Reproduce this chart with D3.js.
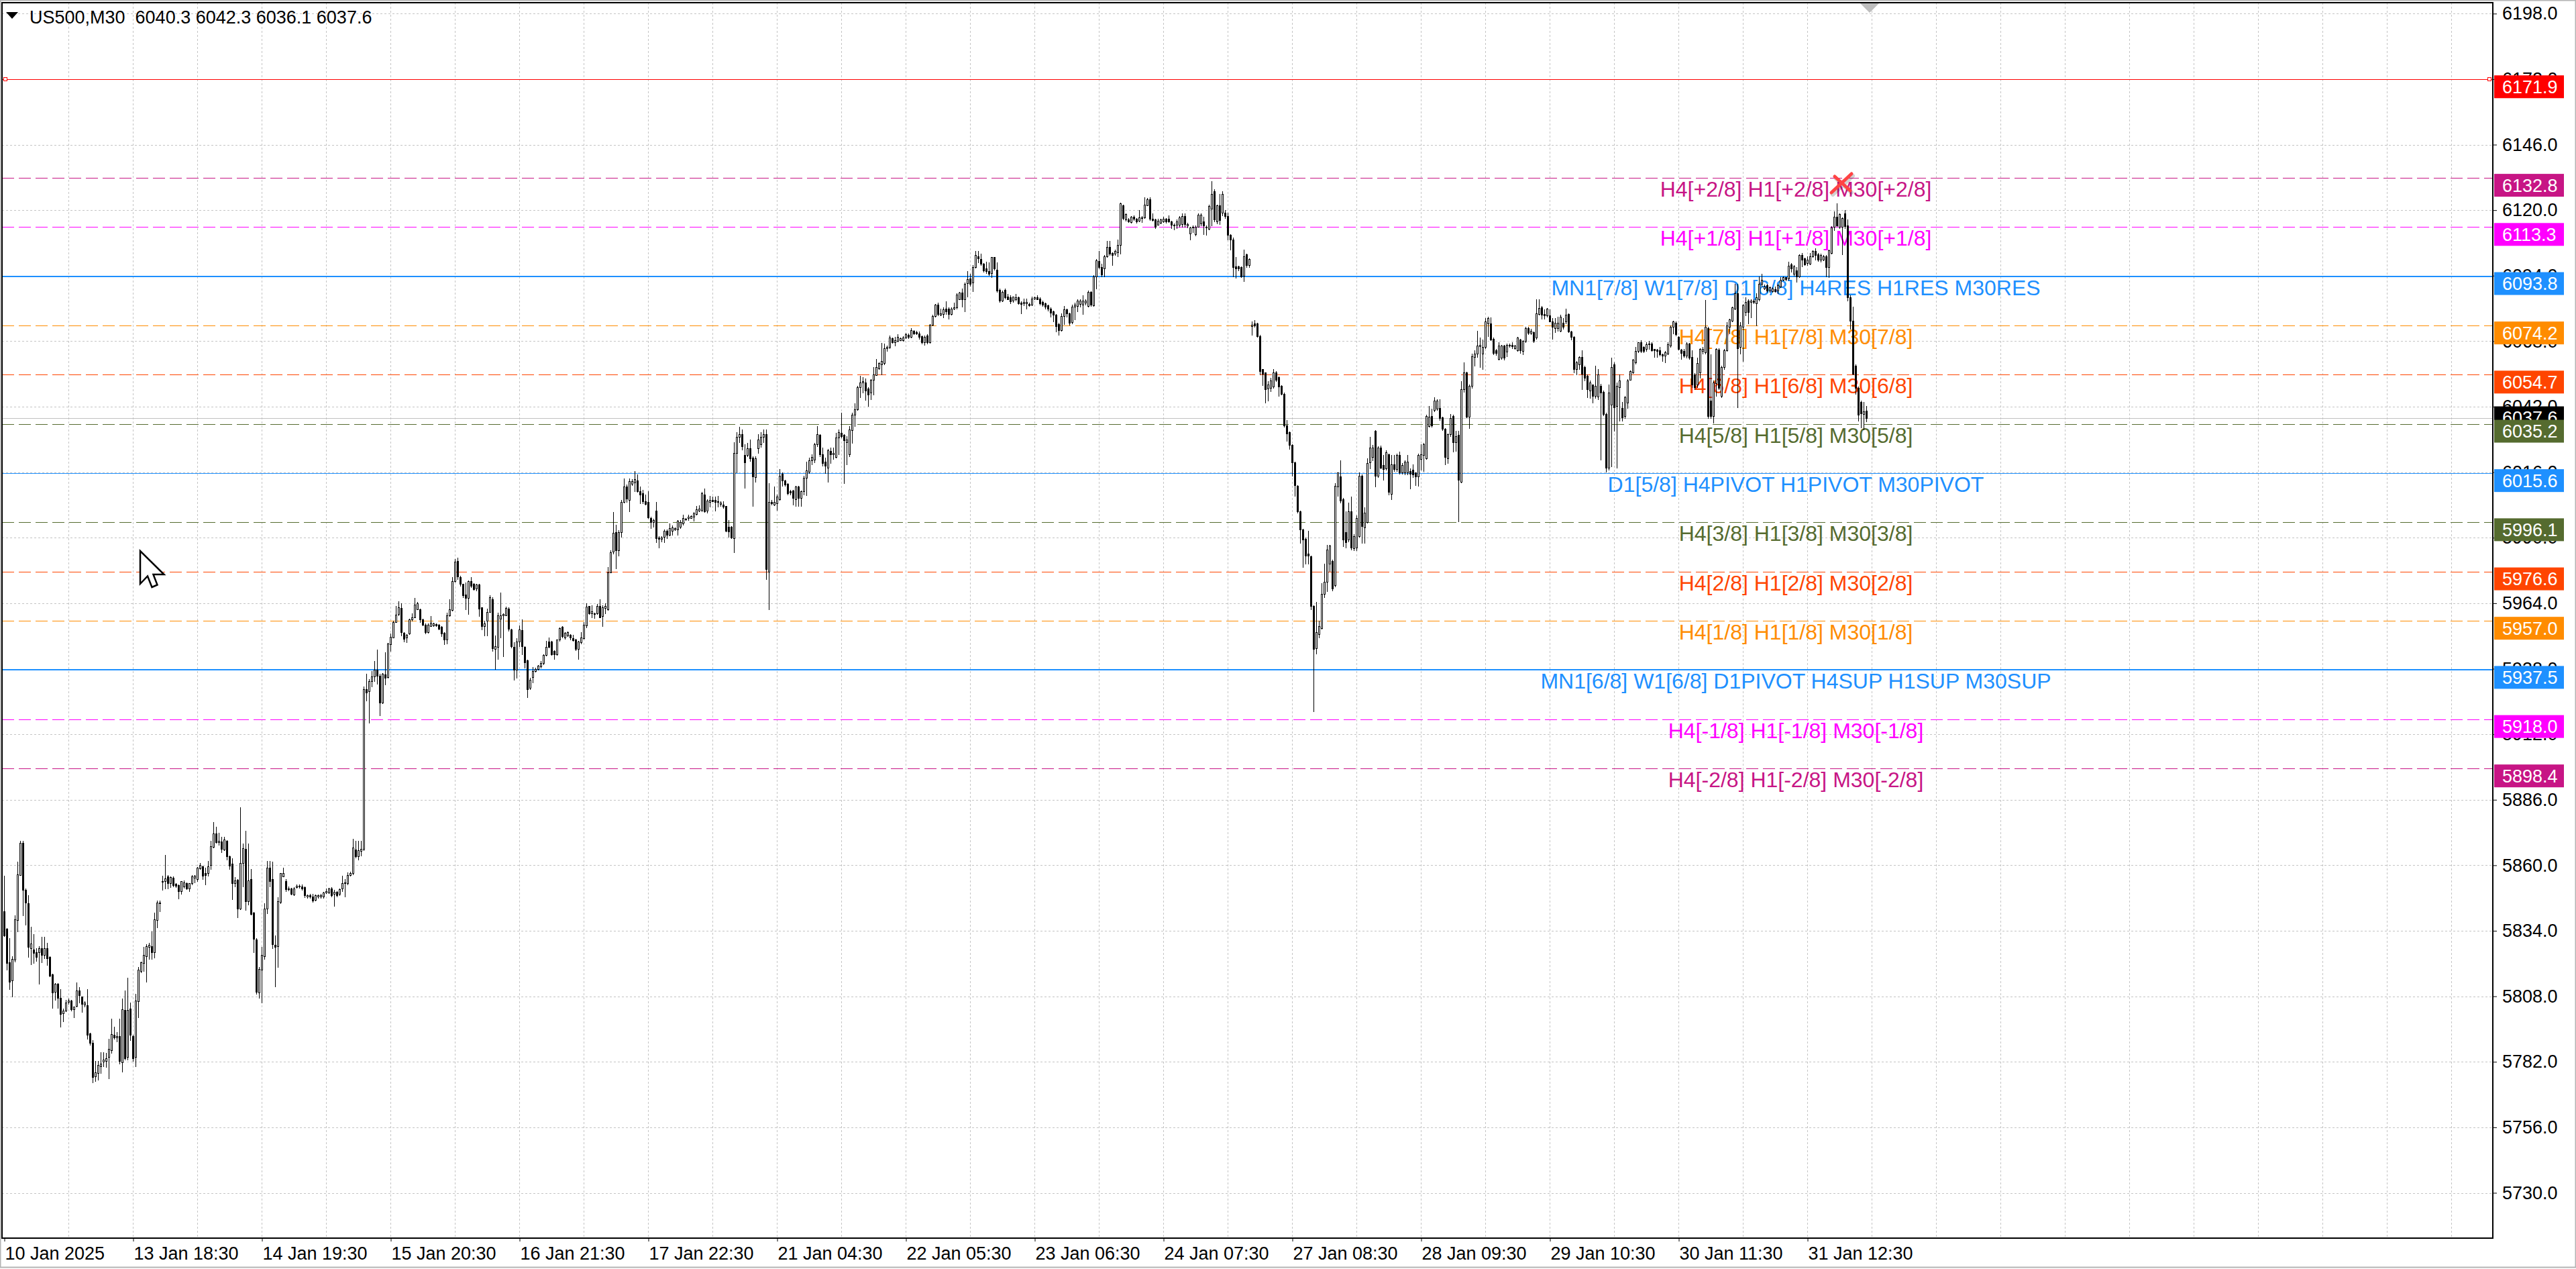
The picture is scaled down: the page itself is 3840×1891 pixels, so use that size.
<!DOCTYPE html>
<html>
<head>
<meta charset="utf-8">
<script src="https://d3js.org/d3.v7.min.js"></script>
<style>
html, body { margin: 0; padding: 0; background: #fff; }
svg { display: block; }
text { font-family: "Liberation Sans", Arial, sans-serif; }
</style>
</head>
<body>
<div class="chart"></div>
<script>
// US500, M30 candles [open, high, low, close]
const sessionA = [
[5841.7,5855.9,5832,5832.2],[5834.9,5835,5818.6,5821.2],[5821.4,5831.2,5810.7,5813.8],[5814.4,5823.9,5808,5822.8],[5822.5,5840.2,5821.7,5838.6],
[5838.3,5861.4,5833.8,5856.5],[5856.2,5869.6,5856,5868.8],[5868.8,5869.6,5840.2,5850.2],[5850.2,5850.7,5836.5,5845.2],[5844.9,5848,5823.6,5827.5],
[5827,5835.7,5820.7,5829],[5826.6,5832.8,5821.2,5825.2],[5825.4,5827,5822,5823.5],[5825.6,5828,5813,5827],[5827.2,5831.7,5821.4,5824.4],
[5824.4,5831.7,5823,5827],[5827,5829.1,5820.4,5823.1],[5823.5,5823.8,5816,5816.2],[5816.7,5817,5803.5,5809.4],[5809.8,5813.3,5806.5,5813],
[5813,5813.3,5803.3,5807.5],[5807.5,5810.7,5795.9,5801],[5801.2,5803,5798,5802.3],[5802.3,5806.5,5802,5805.6],[5805.7,5807,5805,5806.3],
[5806.2,5806.7,5802.3,5802.8],[5802.8,5804,5799.6,5803.9],[5804.2,5813.6,5804,5810.2],[5810.2,5811.7,5805.4,5808.4],[5808,5808,5801.7,5804.9],
[5804.6,5806,5804,5805.4],[5804.4,5810.9,5791.2,5792.8],[5793.3,5793.5,5788.6,5789.6],[5789.6,5790.7,5773.8,5775.9],[5776.1,5782.3,5774.3,5777.8],
[5777.5,5782.3,5774.9,5780.7],[5780.2,5785.9,5777.5,5781.4],[5782,5785.9,5780.2,5782.8],[5782.3,5785.4,5780,5783.3],[5783.8,5791.2,5775.4,5787],
[5786.7,5799.1,5785.4,5793],[5792.8,5795.9,5791,5791.7],[5791.7,5793.8,5790.1,5792.3],[5792.3,5799.1,5781.2,5782.3],[5781.7,5807,5778,5802.8],
[5802.5,5810.2,5782.9,5783.3],[5783.8,5815.4,5783,5802.5],[5803.1,5805.4,5790.7,5792.6],[5792.3,5792.8,5782.3,5783.3],[5783.8,5809.1,5780.2,5806.3],
[5806,5819.6,5799.6,5818.6],[5818,5821.8,5817.5,5821.4],[5821.2,5827.5,5818,5824.4],[5823.8,5828.6,5813.8,5828],[5827.5,5829.1,5822.8,5828.4],
[5828,5833.8,5822.8,5825.4],[5825.4,5841.2,5823.3,5838.6],[5838.3,5845.9,5835.4,5845.2],[5845.2,5845.9,5841.7,5844.8],[5853.4,5855.9,5850.2,5853.8],
[5853.8,5864.1,5850.7,5854.8],[5855.7,5856.1,5850.7,5852.8],[5852.8,5855.5,5851.2,5855.4],[5855.1,5855.5,5851.5,5852.2],[5852.6,5853,5851.2,5851.9],
[5852.2,5852.4,5846.7,5849.6],[5849.8,5853.8,5848.6,5853.6],[5851.7,5854,5851,5853.3],[5853,5853.3,5850.5,5850.9],[5850.9,5853,5849.8,5852.8],
[5852.8,5856,5852.5,5855.7],[5855.1,5856.1,5853.3,5855.9],[5854.4,5859.3,5853.8,5859.1],[5858.9,5860.9,5858.5,5860.2],[5859.6,5859.8,5854.4,5855.9],
[5857,5859.1,5852.3,5856.1],[5856.8,5861.7,5855.9,5859.6],[5860.1,5869.6,5858.6,5867.5],[5867.3,5877.2,5867,5872.6],[5872.6,5875.4,5868.8,5869.1],
[5869.1,5872.8,5868,5869.6],[5869.4,5871.2,5865.2,5866.4],[5866.2,5871.2,5865.9,5870.2],[5869.8,5869.9,5862.2,5863.5],[5863.5,5863.8,5858.6,5859.9],
[5860.7,5862.8,5846.5,5853],[5852.8,5855.4,5851.7,5854],[5854.3,5854.5,5839.3,5842.8],[5842.8,5883.1,5842.5,5861],[5861,5868.6,5851.7,5866.7],
[5866.5,5873.8,5842.2,5845.6],[5845.6,5868.6,5844.3,5854],[5854.4,5858.6,5840.5,5840.7],[5841.2,5841.5,5825.4,5830.9],[5830.5,5831.2,5809.1,5809.8],
[5809.6,5819.6,5807.5,5818.9],[5818.6,5827.5,5805.4,5824.4],[5823.8,5844.9,5822.8,5842.8],[5842.8,5861.7,5841,5859.1],[5859.1,5861.7,5851.7,5853.8],
[5854.4,5861.4,5827,5828.8],[5828.4,5832.2,5811.9,5827.7],[5828,5847.3,5819.6,5845.6],[5845.4,5857,5844.9,5856.8],[5855.7,5859.1,5855.5,5857],
[5853.6,5854.4,5849.8,5850.5],[5850.9,5851.5,5850,5850.5],[5850.7,5851,5848.3,5848.6],[5848.4,5851.2,5848,5850.9],[5851.2,5852.5,5851,5851.9],
[5851.9,5852.3,5851,5851.5],[5851.5,5852.3,5850.2,5850.9],[5851.2,5851.5,5847.3,5848],[5847.7,5848.4,5847,5848],[5848,5848.6,5847,5847.5],
[5847.5,5848.6,5845.4,5845.9],[5846.2,5848.3,5846,5848],[5847.5,5848.4,5847,5848],[5847.5,5848.6,5847,5848],[5847.5,5849.5,5847,5849.1],
[5849.1,5850.7,5848.8,5849.8],[5849.1,5851,5848.8,5850.7],[5850.9,5851.2,5847.5,5848],[5848.6,5850.2,5843.8,5849.4],[5849.4,5849.6,5847.5,5848],
[5848.6,5850.7,5848,5850.5],[5850.7,5855.9,5849.6,5852.8],[5852.8,5854.4,5847.7,5853.3],[5853,5857.2,5852.5,5856.1],[5856.1,5857.5,5855.8,5856.8],
[5856.8,5870.5,5856.5,5867],[5866.2,5869.6,5863.1,5863.5],[5863.5,5869.6,5862.2,5866],[5865.6,5869.6,5863.8,5866.5],[5866.5,5931,5866,5930],
[5930,5936,5925.4,5928.6],[5929.1,5934,5916.5,5933],[5933,5937,5931,5935],[5935,5941,5933,5937.5],[5937.5,5945.5,5932,5935.3],
[5935.3,5936,5919.5,5924.6],[5924.6,5936.4,5924.2,5936],[5935.7,5944.6,5931.7,5934.4],[5934.8,5948.2,5934.4,5947.9],[5947.7,5952,5945,5950.6],
[5950.4,5957,5950.3,5956.6],[5956.6,5962.8,5956.5,5959.4],[5959.7,5964.8,5959.2,5962.4],[5962.1,5964.1,5951.3,5952.6],[5952.3,5952.4,5948.8,5949.9],
[5950.4,5951.7,5948.6,5951.4],[5952.1,5957.9,5951.7,5957.5],[5957.5,5960.1,5957,5958.5],[5958.5,5966.1,5958.3,5963.5],[5961.7,5964.6,5961.5,5963.9],
[5961.7,5961.9,5956.6,5957.5],[5957.5,5957.9,5955.3,5955.5],[5955.5,5955.9,5952.1,5952.6],[5952.6,5955.9,5952.3,5955.5],[5955,5958.8,5954.8,5956.2],
[5955.3,5956.3,5955,5955.9],[5955.7,5956,5955,5955.3],[5955.5,5955.7,5953.7,5953.9],[5954.6,5954.8,5950.8,5952.1],[5952.3,5952.6,5947.7,5949.7],
[5949.7,5960.3,5948.1,5959.1],[5959.1,5965.5,5959,5961.5],[5961.2,5974.3,5961,5972.8],[5972.8,5981.6,5972.6,5980.4],[5980.7,5982.1,5973.6,5974.5],
[5974.3,5974.8,5970.8,5971.7],[5971.7,5971.8,5966.3,5967.2],[5967.4,5972.1,5961.5,5966.2],[5966.2,5973,5959.7,5972.8],[5972.8,5974.3,5970.4,5971],
[5971.7,5971.9,5969.2,5969.5],[5969.7,5971.7,5969,5971.4],[5971.4,5971.7,5958.8,5961.9],[5962.4,5962.4,5953.7,5954.8],[5955,5957,5951.3,5955.9],
[5957,5961.9,5951.3,5960.6],[5960.6,5967.2,5960.4,5966.3],[5965.7,5966.5,5945,5946.1],[5945.9,5951.3,5938,5946.8],[5946.6,5960.3,5941.9,5959.1],
[5957.9,5968.3,5950.4,5959.1],[5959.1,5960.1,5942.8,5959.7],[5959.3,5962.6,5959.2,5962.1],[5961.9,5962.4,5953,5953.9],[5953.5,5953.9,5946.4,5946.8],
[5946.6,5948.6,5933.5,5937.5],[5937.5,5950.2,5934.4,5948.8],[5948.8,5955.3,5946.8,5953.5],[5953.2,5957.7,5943.7,5946.8],[5946.6,5946.8,5938.4,5940.6],
[5941.3,5941.5,5926.6,5929.9],[5930.4,5934.4,5929.9,5933.5],[5934.8,5938.8,5932.6,5937.2],[5937.2,5938.5,5936.8,5937.8],[5937.9,5939.6,5937.6,5939.3],
[5939,5941,5938.4,5940.2],[5940.2,5943.7,5939.7,5943.5],[5943.5,5949,5943.3,5946.6],[5948.8,5950.4,5946.4,5946.6],[5948.8,5949,5943.5,5943.7],
[5945,5945.2,5941.9,5943.7],[5943.7,5949.7,5943.5,5949.5],[5949.5,5954.4,5949,5954.1],[5954.6,5954.8,5950.4,5950.8],[5950.4,5952.6,5949.9,5952.3],
[5951.1,5952.7,5950.9,5952.6],[5951.4,5951.6,5949.5,5950.4],[5950.2,5951.4,5949,5949.3],[5949.7,5949.9,5945.2,5945.9],[5945.9,5949,5941.9,5948.8],
[5948.6,5952.6,5948.1,5950.4],[5950.2,5956.6,5949.9,5955.5],[5955.3,5963.9,5954.4,5962.6],[5962.8,5963,5959.7,5960.1],[5960.1,5963.3,5958.4,5960.8],
[5960.1,5960.3,5958.2,5959.7],[5960.1,5963.7,5959.7,5963],[5963,5965.6,5958.4,5958.5],[5958.8,5963.3,5955,5962.4],[5962.1,5963.9,5960.1,5962.8],
[5961.5,5978.4,5961.3,5976.3],[5976.3,5985,5976.1,5984.1],[5984.5,6000.1,5983.7,5991.9],[5992.1,5995.2,5977.9,5985],[5985,5993,5982.8,5992.3],
[5992.3,6005,5990.3,6004.1],[6004.1,6013.6,6004,6010.3],[6010.3,6011.2,6004.1,6005.4],[6005,6013.4,6000.5,6012.5],[6011.5,6013.2,6010.8,6012.4],
[6011.8,6016.5,6008.5,6013.2],[6012.7,6015.2,6008.1,6008.5],[6008.5,6010.3,6003.6,6007],[6007.7,6009.1,6003.6,6004.4],[6004.4,6007.2,6003.2,6003.5],
[6004.1,6008.5,5997.9,5998.1],[5997.9,5998.4,5993.9,5996.1],[5996.1,5997.5,5994.3,5997],[6000.8,6004.1,5988.1,5989.9],[5990.1,5990.5,5986.1,5989.6],
[5989.6,5990.5,5988.6,5990.1],[5990.3,5993.4,5988.1,5992.8],[5992.8,5993.2,5989.9,5991.2],[5991.2,5995.6,5990.8,5993.7],[5992.8,5994.8,5991.2,5994],
[5993.2,5994,5993,5993.7],[5993.4,5996.9,5991.2,5996.7],[5994.3,5997,5993.9,5996.1],[5995.6,5999.2,5995.2,5997.9],[5997.2,5997.9,5997,5997.6],
[5997.9,5999,5997,5998.3],[5997.9,5998.8,5997.7,5998.5],[5998.3,6000.3,5996.7,5999.7],[5999.4,6002.7,5999.2,6001.2],[6000.8,6002.9,6000.5,6001.4],
[6001,6008.1,6000.5,6007.6],[6007.2,6009.4,6000.3,6000.5],[6000.8,6005.2,5999.9,6004.7],[6004.1,6006.7,6002.3,6005],[6005,6006.3,6004.4,6004.5],
[6005,6006.3,6000.8,6004.1],[6004.1,6006.5,6002.3,6004.5],[6003.5,6004.4,6002.7,6003.8],[6003.2,6004.4,6001.9,6002.3],[6002.6,6002.7,5992.6,5992.8],
[5994.3,5997,5990.3,5992.6],[5994.3,5994.5,5989.9,5990.1]
];
const sessionB = [
[5989.9,6028,5984.3,6023.6],[6023.6,6032,6016,6030],[6030,6034,6028,6031],[6031,6033,6025,6026.3],[6022.7,6027,6009.9,6019.8],
[6022.7,6027.6,6022.3,6025.6],[6025.6,6029,6020.5,6021.4],[6021.9,6022.2,6002.7,6014.3],[6014.1,6022.3,6012.1,6021.6],[6025.4,6031,6023.6,6029],
[6027.2,6032,6026,6030],[6030,6033,6028,6031],[6031,6033,5973.5,5977.5],[5976.6,6011.6,5961.5,6004.1],[6004.1,6005,6003,6003.6],
[6003.2,6010.3,6002.9,6004.1],[6003.6,6007.2,6001,6006.3],[6005.3,6017.3,6005,6014.5],[6015.3,6016,6010.5,6012.8],[6012.8,6013,6010.5,6011.1],
[6011.4,6011.6,6007.1,6007.6],[6008.5,6009,6007,6008],[6008.8,6009,6003.1,6005.7],[6005.3,6010.5,6002.5,6010.3],[6010.3,6010.7,6002.7,6005.7],
[6005.9,6008.6,6002.5,6008.4],[6008.4,6014.5,6007.1,6013.7],[6013.7,6020.1,6006.8,6016.7],[6016.2,6021.9,6015.6,6020.7],[6020.7,6023,6019,6022],
[6021,6027.5,6020,6027],[6027,6034.4,6026.4,6031],[6030.7,6031,6022.4,6023],[6023,6025.8,6018.5,6019.6],[6020.1,6021.9,6015.6,6018.5],
[6017.9,6025.3,6012.2,6024.7],[6024.4,6025.8,6019.6,6023.2],[6023,6025.8,6021.3,6023.6],[6022.1,6031.5,6021.9,6029.8],[6029.8,6033,6023,6031.9],
[6031.5,6039.5,6029.8,6030.4],[6030.7,6031,6011.6,6028.7],[6027.8,6030.4,6019,6028.9],[6023,6034.4,6022.4,6033],[6032.7,6039.5,6027.6,6038.7],
[6038.7,6043.3,6034.4,6040.9],[6040.9,6050.3,6040.6,6049.8],[6049.8,6054.3,6045.8,6051.7],[6051.5,6053.7,6047.5,6052],[6051.7,6053.2,6044.6,6048.3],
[6049.2,6049.8,6042.4,6046.9],[6047.5,6052.8,6044.9,6052.6],[6052.6,6057.7,6046.9,6054.9],[6054.6,6060.8,6054.5,6057.7],[6057.2,6059.6,6057,6059.4],
[6058.8,6067.4,6054.9,6060],[6059.2,6067.1,6058.9,6065.1],[6065.1,6066.2,6064,6065.7],[6065.7,6070.2,6065.3,6069.4],[6069.1,6069.4,6067.4,6067.6],
[6067.6,6069.7,6066.2,6068.5],[6068,6070.8,6067.8,6069.7],[6068.5,6069.5,6068.3,6069.1],[6068.5,6069.9,6068,6069.4],[6069.4,6071.4,6069.1,6070.8],
[6070.6,6071,6069.1,6069.7],[6069.7,6073.1,6069.4,6072.5],[6072.1,6072.5,6070.8,6071],[6071.7,6072,6070.8,6071],[6071,6071.9,6068.8,6069.7],
[6069.9,6070.2,6067.1,6067.6],[6067.6,6070.2,6066.5,6069.7],[6070.2,6070.8,6067.1,6067.6],[6067.6,6074.8,6067.4,6074.4],[6074.4,6078.5,6074.2,6077.9],
[6077.9,6082.8,6077.6,6082.4],[6082.4,6083.3,6078.2,6078.8],[6078.5,6081,6078.2,6079],[6078.8,6081.3,6077.4,6080.5],[6081,6083.9,6078.8,6079.9],
[6080.8,6081.3,6077,6078.8],[6078.8,6081.3,6078.5,6081],[6080.8,6083.3,6080.5,6081.3],[6081.3,6087,6081,6086.5],[6084.7,6087.6,6084.5,6087.3],
[6087.3,6089,6081.6,6084.7],[6084.7,6091.3,6079.7,6090.7],[6091.1,6095.8,6085.6,6092.7],[6093,6094.7,6089.9,6090.7],[6091.3,6098.3,6087.9,6097.5],
[6097.5,6103.8,6097.2,6102.1],[6101.7,6103.8,6099.3,6101],[6100.6,6102.7,6098.1,6098.7],[6098.7,6099,6095.6,6096.1],[6096.8,6099.5,6094.9,6095.8],
[6095.8,6099.3,6094.1,6094.7],[6094.9,6101.5,6093.3,6101.3],[6101.3,6101.5,6096.4,6096.8],[6096.4,6099.3,6087.6,6088.1],[6088.4,6089,6083.6,6084.2],
[6084.2,6088.1,6083.9,6087.6],[6088.4,6088.8,6085,6085.4],[6085.6,6086.7,6084.5,6084.7],[6085.4,6086.2,6083.1,6083.9],[6084.2,6085.8,6083.6,6085.6],
[6084.7,6086.7,6084.2,6085.4],[6085.4,6085.8,6082.8,6083.1],[6083.3,6083.9,6079,6082.8],[6083.1,6085,6082.2,6083.6],[6083.1,6085,6081,6083.6],
[6082.8,6083.3,6082,6082.2],[6082.4,6085.6,6082.2,6085],[6085,6085.8,6084.7,6085.4],[6085.4,6086.2,6084.5,6084.7],[6085,6085.4,6082.4,6083.1],
[6083.6,6084.2,6082,6082.4],[6083.1,6083.3,6081,6081.6],[6082.2,6082.4,6080.1,6080.8],[6081,6081.3,6077.6,6079.3],[6079.7,6080.1,6075.9,6078.5],
[6078.5,6078.8,6071.9,6074],[6074.8,6075.4,6070.6,6072.5],[6072.5,6079,6072.2,6077.9],[6077.9,6082,6074.8,6080.5],[6080.5,6081,6077.6,6079],
[6079,6079.3,6074.4,6075.4],[6075.6,6082.4,6075.1,6081.6],[6081.6,6083.3,6076.7,6082.4],[6082,6084.5,6079.9,6084.2],[6082.8,6084.7,6081.6,6084.2],
[6082.4,6086.2,6078.8,6084.2],[6083.3,6084.7,6082.4,6084.2],[6082,6088.1,6081.6,6087.6],[6087.6,6087.9,6082,6082.4],[6082.2,6094.1,6082,6093.8],
[6093.8,6100.6,6089,6100.2],[6099.8,6103.8,6097,6097.5],[6097.5,6098.7,6093.8,6094.5],[6097,6102.1,6093.8,6101.8],[6101.8,6107.8,6101.5,6105.5],
[6105.5,6107.8,6102.1,6102.7],[6102.9,6103.2,6098.3,6102.1],[6102.7,6104.4,6102.1,6103.8],[6103.2,6108.4,6101.8,6106.3],[6106.1,6122.9,6102.7,6122.6],
[6122,6122.3,6116.3,6116.9],[6116.3,6118.8,6115.8,6118.4],[6116.3,6116.9,6115.2,6115.6],[6115.2,6117.7,6115,6117.5],[6117.5,6118,6116.1,6116.5],
[6116.5,6116.9,6115,6115.4],[6115.7,6120,6115.4,6117.2],[6116.9,6117.7,6115.2,6117.2],[6117.2,6125.1,6116.9,6122.3],[6122,6124.9,6121.8,6124.3],
[6124.3,6125.1,6116.1,6116.6],[6116.6,6118.6,6115.8,6116.1],[6116.3,6116.6,6112.9,6113.5],[6114.3,6116.6,6114.1,6115.8],[6115,6116.6,6114.6,6116.3],
[6115.4,6117.5,6115.2,6116.6],[6116.6,6116.9,6115,6115.4],[6116.6,6118,6115.2,6115.4],[6115.4,6115.8,6112.9,6114.3],[6114.3,6114.6,6112.3,6113.8],
[6114.1,6116.3,6112.9,6115.4],[6114.1,6117.7,6113.5,6117.2],[6114.4,6118.8,6113.5,6117.7],[6117.7,6118.6,6113.5,6114.4],[6114,6115,6113,6114.5],
[6110.8,6113.5,6108.4,6113],[6113.5,6114,6111.2,6113],[6110.5,6113.8,6109.8,6113.5],[6113.5,6118.6,6113.5,6118.2],[6114.7,6118.6,6114,6118.2],
[6115.4,6117.4,6110.5,6114],[6113,6114,6110.2,6113.5],[6112.6,6122.3,6112.3,6121.6],[6120.5,6131.4,6114,6126.5],[6127.5,6128.3,6115.4,6116.3],
[6115.4,6122.3,6114.7,6121.9],[6121.9,6126.5,6114.5,6116],[6119,6127.5,6118,6126.5],[6119.1,6120,6116.8,6117.7],[6117.7,6119.1,6108.4,6110.2],
[6110.2,6110.5,6104.2,6108.4],[6108.4,6109.1,6093.8,6097.3],[6097.7,6101.4,6093.1,6096.8],[6097.7,6098,6096,6096.8],[6097.3,6097.7,6093.5,6093.8],
[6094,6104.2,6091.7,6101.8],[6102.4,6102.8,6097.3,6098.2],[6098.2,6101,6097.3,6100.7]
];
const sessionC = [
[6074,6075.9,6070.4,6074.5],[6075,6076.4,6073.6,6074.3],[6075,6075.4,6069.8,6070.1],[6070.1,6070.4,6054.8,6056.2],[6056.9,6057,6050.6,6055],
[6055.5,6055.5,6043.6,6048.9],[6049.2,6052,6044.3,6050.9],[6049.5,6053.4,6048.1,6052.3],[6049.9,6056.9,6049.5,6055.5],[6055.5,6056.2,6052,6052.7],
[6053.7,6054.1,6046.4,6049.9],[6050.3,6050.6,6046.7,6047.1],[6047.1,6047.5,6033.9,6034.6],[6034.6,6036.7,6028.3,6031.4],[6031.8,6032.2,6025.2,6026.9],
[6026.9,6027.2,6014.7,6019.9],[6019.9,6020.2,6006.7,6010.9],[6010.5,6010.9,5999.8,6000.4],[6000.4,6000.7,5987.9,5993.2],[5993.2,5993.5,5978.4,5989.3],
[5989.6,5990,5979.8,5983],[5983.7,5992.8,5979.8,5983],[5982.6,5983,5961.7,5962.8],[5962.8,5963.1,5921,5945.8],[5946.1,5964.5,5944,5952.4],
[5951.7,5957,5950.3,5954.8],[5954.2,5971.9,5953.8,5967.7],[5967.7,5979.8,5966.3,5972.6],[5972.6,5987.2,5968.7,5985.4],[5979.8,5987.2,5976.8,5986.8],
[5980.7,5981.2,5969.1,5969.8],[5971.2,6011.6,5970.5,6010.5],[6010.2,6016,6006.7,6015.8],[6014.4,6020.6,6003.9,6004.6],[6005.3,6005.7,5986.5,5989.3],
[5992.1,6000.4,5986.2,5988.2],[5989.3,6003.9,5988.6,6000.4],[6000.4,6006.3,5985.4,5986.2],[5985.8,5991.4,5985.1,5990.7],[5986.2,5998.8,5985.1,5997.7],
[5990.7,6016,5990.4,6014.7],[6014.7,6015.1,5987.9,5994.6],[5994.2,6002.1,5987.9,5999.8],[5996.3,6021.6,5996,6019.7],[6020,6030,6017.4,6025.8],
[6022,6026.9,6020.6,6025.8],[6032.5,6032.8,6010.2,6014.7],[6014.7,6026.2,6014.1,6025.8],[6025.8,6026.6,6017.6,6017.8],[6018.8,6022.7,6013,6017.2],
[6017.4,6024.8,6016.9,6023.9],[6023,6023.4,6007.1,6008.1],[6007.4,6022.7,6005.3,6019.2],[6019.2,6022.7,6016.5,6017.2],[6017.2,6023.4,6016.5,6022.7],
[6022.7,6024.1,6015.5,6016],[6016,6019.7,6015.5,6018.8],[6016,6020.6,6015.1,6020.2],[6015.8,6022.7,6015.1,6020.2],[6016.5,6017.4,6009.5,6015.5],
[6016.9,6019.2,6014.1,6015.1],[6015.8,6016,6010.9,6014.4],[6014.4,6023.4,6010.5,6022.7],[6021.3,6027.2,6017,6023],[6022.7,6027.6,6016.5,6027.2],
[6021.6,6038.8,6021.3,6038.3],[6034.2,6042.2,6033.9,6038.1],[6038.3,6041.1,6034,6034.6],[6040.6,6045.7,6040.1,6044.3],[6041.1,6045,6040.6,6044.3],
[6041.5,6045,6036.7,6037.4],[6037.8,6038.1,6032.8,6033.2],[6033.2,6033.6,6019.2,6022],[6021.6,6031.4,6019.7,6031.1],[6031.1,6039.2,6030.4,6037.4],
[6038.3,6038.8,6024.1,6028],[6028,6032.5,6024.4,6030.4],[6030.8,6032.5,5996.5,6013],[6012.3,6052,6011.9,6048.9],[6048.9,6059.6,6047.8,6055.5],
[6055.5,6055.9,6037.8,6038.1],[6038.1,6050.9,6033.6,6050.3],[6050.3,6063.1,6049.5,6062],[6061.7,6064.5,6058.2,6063.1],[6063.1,6072.2,6061.7,6066.2],
[6065.9,6069.4,6057.8,6066.6],[6063.1,6068.7,6056.9,6065.6],[6065.6,6077.1,6065.2,6075.9],[6075,6077.8,6070.1,6077.1],[6075,6077.3,6068.4,6068.7],
[6069,6069.4,6062.8,6063.4],[6064.5,6064.8,6062.4,6063.4],[6061,6067.6,6060.6,6066.2],[6061.4,6066.6,6061,6066.2],[6066.2,6066.6,6060.6,6061.4],
[6063.8,6067,6062,6066.6],[6066.2,6067,6065.6,6066.6],[6066.6,6067.6,6065.2,6065.9],[6065.2,6066.6,6065,6066.2],[6064.5,6069.8,6064.2,6069.4],
[6068.7,6069,6063.4,6064.5],[6064.2,6068.4,6062.8,6068],[6068,6073.6,6067.6,6073.2],[6073.2,6073.6,6070.8,6071.2],[6071.2,6072.9,6070.8,6072.2],
[6071.5,6071.8,6067.6,6068],[6069.4,6084.7,6069,6079.1],[6078.8,6084.7,6078.4,6081.2],[6081.5,6081.9,6077,6078.4],[6078.7,6080.5,6076.8,6078.2],
[6078.2,6081.2,6077.7,6080.9],[6078.2,6080.5,6075.7,6075.9],[6075.9,6077.1,6069,6073.6],[6073.2,6077.1,6071.5,6075.4],[6073.2,6077.8,6072.2,6075.4],
[6072.2,6078.4,6071.8,6077.8],[6075.4,6077.1,6072.9,6073.6],[6075.7,6081,6075,6078.4],[6078.7,6079.1,6071.5,6071.8],[6071.8,6072.2,6068.7,6069.8],
[6069.8,6070.1,6055.5,6056.9],[6056.9,6060,6054.7,6059.6],[6058.9,6062,6056.9,6061.7],[6061.7,6064.5,6048.9,6055],[6057.8,6058.2,6052.5,6053.4],
[6054.3,6054.7,6045.8,6048.9],[6048.5,6052.5,6045.4,6051.6],[6050.7,6050.9,6043.6,6046.3],[6046.3,6058.2,6045.4,6050.3],[6046,6056.9,6044.9,6054.7],
[6050.3,6051,6021,6047.6],[6048,6048.5,6038.5,6039.2],[6039.2,6039.5,6016.3,6017.9],[6017.9,6050.7,6017,6047.6],[6042.7,6061.4,6018.3,6057.8],
[6058.7,6059.6,6032.5,6041.8],[6042.3,6051.6,6017.9,6050.3],[6049.8,6054.7,6036.5,6052.5],[6041.4,6044,6036.5,6037.8],[6038.3,6046.3,6037.4,6045.8],
[6043.6,6052.9,6041.4,6052.5],[6052.7,6056.5,6052.6,6056],[6055.6,6060.9,6055.2,6060.6],[6059.6,6065.8,6059.1,6064.2],[6064,6067.7,6063.6,6067.6],
[6067.6,6068.5,6063.6,6064],[6065.6,6066,6063.5,6064],[6064.9,6067.7,6064,6066.9],[6066.7,6068,6064.9,6067.1],[6067.1,6067.6,6064,6064.5],
[6064.8,6065,6061.8,6064.5],[6064.7,6065,6061.8,6064.2],[6064.5,6065.8,6062.2,6062.7],[6062.7,6063.1,6060,6062.2],[6062.2,6064,6059.6,6063.6],
[6063.1,6067.6,6062.7,6066.7],[6066.2,6074.2,6065.8,6073.8],[6073.8,6076,6071.1,6075.7],[6075.4,6075.7,6070.2,6070.7],[6069.8,6070.1,6064.7,6064.9],
[6064.7,6065,6060.9,6063.3],[6064.2,6064.9,6061.8,6062.2],[6062.2,6067.6,6061.4,6067.1],[6067.1,6067.4,6060.9,6061.4],[6061.8,6064.5,6049.8,6050.7],
[6054.7,6055.2,6048.9,6049.8],[6050.7,6061.4,6049.8,6059.2],[6055.6,6065.3,6053.4,6064.9],[6064,6065.8,6063.1,6064.9],[6063.6,6084.3,6063.1,6073.8],
[6073.3,6073.8,6037.4,6038.3],[6044.5,6062.7,6037.4,6038.3],[6038.3,6052.5,6035.6,6051.6],[6051.2,6065.3,6046.3,6064.9],[6064.7,6065.3,6048.9,6049.4],
[6046.3,6058.2,6045.8,6057.8],[6057.8,6064.9,6056.9,6064.5],[6064.5,6075.6,6064.2,6074.2],[6073.8,6076.9,6071.1,6076.5],[6076,6081.8,6075.7,6081.3],
[6080.9,6090.7,6080.7,6087.1],[6087.1,6090.7,6041.8,6065.3],[6065.8,6075.6,6063.1,6074.2],[6073.8,6082.7,6060,6082.2],[6079.6,6085.3,6078.2,6083.6],
[6084,6084.5,6075.1,6079.6],[6083.6,6084.5,6077.3,6084],[6084,6084.5,6083.1,6083.6],[6083.1,6087.1,6074.2,6085.3],[6084.5,6093.8,6084,6090.7],
[6090.7,6094.7,6089.8,6092.4],[6088.9,6090.4,6088.5,6089.8],[6090.2,6090.7,6087.6,6088],[6088,6089.8,6087.6,6089.3],[6087.8,6089.3,6087.5,6088.9],
[6088.7,6089.8,6087.6,6087.8],[6088,6090.7,6087.1,6090.2],[6089.8,6093.5,6089.3,6092.4],[6092.4,6093.8,6092,6093.3],[6093.3,6093.5,6092.2,6092.6],
[6092.9,6099.5,6092.4,6097.9],[6098.5,6099.1,6095.5,6096.9],[6094.7,6098.2,6094,6097.8],[6096.2,6097.3,6091.5,6093.8],[6093.8,6102.4,6093.5,6102.2],
[6102.2,6103.1,6097.8,6100.4],[6100.9,6101.1,6098.2,6098.6],[6099.1,6101.8,6098.2,6100.4],[6098.8,6103.1,6098.6,6101.8],[6101.8,6104.1,6101.5,6103.8],
[6103.8,6104.9,6100.4,6102.2],[6102.4,6103.1,6099.7,6100.4],[6100.4,6102.7,6099.5,6102.2],[6100.4,6102.2,6100,6101.8],[6101.8,6102.2,6093.8,6097.3],
[6097.3,6104.4,6093.3,6104],[6103.1,6113.7,6102.7,6113],[6113.3,6119.5,6112,6117.3],[6117.3,6122.6,6113.7,6113.9],[6113.3,6118.6,6112.9,6118.4],
[6113.3,6117.1,6102.4,6116.9],[6118.6,6120.1,6112.9,6113.7],[6113.9,6116.4,6084,6085.3],[6085.3,6086.2,6072.9,6076],[6076,6081.8,6054.7,6055.1],
[6058.3,6058.7,6047,6049.4],[6049.4,6050,6036.5,6038.7],[6044,6044.5,6033.8,6039.4],[6039.2,6044,6032.9,6040.1],[6040.3,6042.3,6036.1,6037.6]
];

const symbolName = 'US500,M30'
const bidPrice = 6037.6
const priceTicks = [6198, 6172, 6146, 6120, 6094, 6068, 6042, 6016, 5990, 5964, 5938, 5912, 5886, 5860, 5834, 5808, 5782, 5756, 5730]
const timeLabels = ['10 Jan 2025', '13 Jan 18:30', '14 Jan 19:30', '15 Jan 20:30', '16 Jan 21:30', '17 Jan 22:30', '21 Jan 04:30',
    '22 Jan 05:30', '23 Jan 06:30', '24 Jan 07:30', '27 Jan 08:30', '28 Jan 09:30', '29 Jan 10:30', '30 Jan 11:30', '31 Jan 12:30']
const levelPrices = [6171.9, 6132.8, 6113.3, 6093.8, 6074.2, 6054.7, 6035.2, 6015.6, 5996.1, 5976.6, 5957.0, 5937.5, 5918.0, 5898.4]
const levelTexts = ['', 'H4[+2/8] H1[+2/8] M30[+2/8]', 'H4[+1/8] H1[+1/8] M30[+1/8]', 'MN1[7/8] W1[7/8] D1[6/8] H4RES H1RES M30RES',
    'H4[7/8] H1[7/8] M30[7/8]', 'H4[6/8] H1[6/8] M30[6/8]', 'H4[5/8] H1[5/8] M30[5/8]', 'D1[5/8] H4PIVOT H1PIVOT M30PIVOT',
    'H4[3/8] H1[3/8] M30[3/8]', 'H4[2/8] H1[2/8] M30[2/8]', 'H4[1/8] H1[1/8] M30[1/8]', 'MN1[6/8] W1[6/8] D1PIVOT H4SUP H1SUP M30SUP',
    'H4[-1/8] H1[-1/8] M30[-1/8]', 'H4[-2/8] H1[-2/8] M30[-2/8]']
const levelColors = ['#ff0000', '#c71585', '#ff00ff', '#1e90ff', '#ff8c00', '#ff4500', '#556b2f', '#1e90ff', '#556b2f', '#ff4500', '#ff8c00', '#1e90ff', '#ff00ff', '#c71585']
const levelDashed = [false, true, true, false, true, true, true, false, true, true, true, false, true, true]
const levelWidths = [1, 1, 1, 2, 1, 1, 1, 1, 1, 1, 1, 2, 1, 1]

window.onload = () => {
    const W = 3840, H = 1891
    const left = 3, top = 4, right = 3716, bottom = 1845
    const font = '"Liberation Sans", Arial, sans-serif'

    let bars = sessionA.concat(sessionB, sessionC)
    let last = bars[bars.length - 1]

    let x = d3.scaleLinear().domain([0, 1]).range([6, 10])
    let y = d3.scaleLinear().domain([5730, 6198]).range([1777.5, 20.3])

    let svg = d3.select('.chart').append('svg')
        .attr('width', W).attr('height', H)
        .style('background', '#fff')

    // window frame
    svg.append('rect').attr('x', 0.5).attr('y', 0.5).attr('width', W - 1).attr('height', H - 3)
        .attr('fill', 'none').attr('stroke', '#b4b4b4').attr('stroke-width', 2)

    let plot = svg.append('g').attr('shape-rendering', 'crispEdges')

    // grid
    let vTicks = d3.range(24, 1000, 24).filter(i => x(i) < right)
    plot.selectAll('.vgrid').data(vTicks).enter().append('line')
        .attr('x1', d => Math.round(x(d)) + 0.5).attr('x2', d => Math.round(x(d)) + 0.5)
        .attr('y1', top).attr('y2', bottom)
        .attr('stroke', '#c4c4c4').attr('stroke-dasharray', '3,3')
    plot.selectAll('.hgrid').data(priceTicks).enter().append('line')
        .attr('x1', left).attr('x2', right)
        .attr('y1', d => Math.round(y(d)) + 0.5).attr('y2', d => Math.round(y(d)) + 0.5)
        .attr('stroke', '#c4c4c4').attr('stroke-dasharray', '3,3')

    // level lines
    let levels = levelPrices.map((p, k) => ({ p: p, text: levelTexts[k], color: levelColors[k], dash: levelDashed[k], w: levelWidths[k] }))
    plot.selectAll('.lvl').data(levels).enter().append('line')
        .attr('x1', left).attr('x2', right)
        .attr('y1', d => Math.round(y(d.p)) + (d.w === 1 ? 0.5 : 0))
        .attr('y2', d => Math.round(y(d.p)) + (d.w === 1 ? 0.5 : 0))
        .attr('stroke', d => d.color).attr('stroke-width', d => d.w)
        .attr('stroke-dasharray', d => d.dash ? '18,7' : null)

    // small anchors on the red line
    let redY = Math.round(y(levelPrices[0])) + 0.5
    plot.append('rect').attr('x', 5.5).attr('y', redY - 3).attr('width', 5).attr('height', 5)
        .attr('fill', '#fff').attr('stroke', '#ff0000')
    plot.append('rect').attr('x', right - 7.5).attr('y', redY - 3).attr('width', 5).attr('height', 5)
        .attr('fill', '#fff').attr('stroke', '#ff0000')

    // bid line
    plot.append('line').attr('x1', left).attr('x2', right)
        .attr('y1', Math.round(y(bidPrice)) + 0.5).attr('y2', Math.round(y(bidPrice)) + 0.5)
        .attr('stroke', '#c0c0c0')

    // level captions
    svg.selectAll('.lvltext').data(levels.filter(d => d.text)).enter().append('text')
        .attr('x', 2677).attr('y', d => y(d.p) + 28)
        .attr('text-anchor', 'middle')
        .style('font-size', '32px').style('font-family', font)
        .attr('fill', d => d.color)
        .text(d => d.text)

    // candles
    let cg = svg.append('g').attr('shape-rendering', 'crispEdges')
    let candle = cg.selectAll('.candle').data(bars).enter().append('g')
    candle.append('line')
        .attr('x1', (d, i) => x(i) + 0.5).attr('x2', (d, i) => x(i) + 0.5)
        .attr('y1', d => Math.round(y(Math.max(d[1], d[0], d[3]))))
        .attr('y2', d => Math.round(y(Math.min(d[2], d[0], d[3]))) + 1)
        .attr('stroke', '#000')
    candle.append('rect')
        .attr('x', (d, i) => x(i) - 0.5)
        .attr('y', d => Math.round(y(Math.max(d[0], d[3]))) + 0.5)
        .attr('width', 2)
        .attr('height', d => Math.max(Math.round(y(Math.min(d[0], d[3]))) - Math.round(y(Math.max(d[0], d[3]))), 1))
        .attr('fill', d => d[3] >= d[0] ? '#fff' : '#000')
        .attr('stroke', '#000')

    // cross marker above the high
    let cx = 2745, cy = 272
    let mark = svg.append('g')
    mark.append('path').attr('d', `M${cx - 15},${cy + 15}L${cx + 15},${cy - 13}M${cx - 10},${cy - 9}L${cx + 13},${cy + 12}`)
        .attr('stroke', 'rgba(0,0,0,0.18)').attr('stroke-width', 6).attr('stroke-linecap', 'round')
        .attr('transform', 'translate(2,3)')
    mark.append('path').attr('d', `M${cx - 15},${cy + 15}L${cx + 15},${cy - 13}M${cx - 10},${cy - 9}L${cx + 13},${cy + 12}`)
        .attr('stroke', '#ff4444').attr('stroke-width', 5).attr('stroke-linecap', 'round')

    // chart shift marker
    svg.append('path').attr('d', 'M2772,4L2802,4L2787,19Z').attr('fill', '#bdbdbd')

    // mouse pointer
    svg.append('path')
        .attr('d', 'M209,821L209,870L220,858.5L226.5,875L234.5,871.5L228.5,856L244.5,856Z')
        .attr('fill', '#fff').attr('stroke', '#000').attr('stroke-width', 2.5).attr('stroke-linejoin', 'miter')

    // frame
    svg.append('rect').attr('x', left).attr('y', top).attr('width', right - left).attr('height', bottom - top)
        .attr('fill', 'none').attr('stroke', '#000').attr('stroke-width', 2)

    // price axis
    let yAxis = d3.axisRight(y).tickValues(priceTicks).tickSize(6).tickPadding(8).tickFormat(d3.format('.1f'))
    let ya = svg.append('g').attr('transform', `translate(${right},0)`).call(yAxis)
    ya.select('.domain').remove()
    ya.selectAll('line').attr('stroke', '#000')
    ya.selectAll('text').style('font-size', '27px').style('font-family', font).attr('fill', '#000')

    // time axis
    let xAxis = d3.axisBottom(x).tickValues(timeLabels.map((t, k) => k * 48)).tickSize(5).tickPadding(8)
        .tickFormat((d, k) => timeLabels[k])
    let xa = svg.append('g').attr('transform', `translate(0,${bottom})`).call(xAxis)
    xa.select('.domain').remove()
    xa.selectAll('line').attr('stroke', '#000').attr('transform', 'translate(0.5,0)')
    xa.selectAll('text').attr('text-anchor', 'start').attr('x', 1)
        .style('font-size', '27px').style('font-family', font).attr('fill', '#000')

    // price tags
    let tags = svg.append('g')
    let bidG = tags.append('g')
    bidG.append('rect').attr('x', 3718).attr('y', y(bidPrice) - 17).attr('width', 104).attr('height', 34).attr('fill', '#000')
    bidG.append('text').attr('x', 3730).attr('y', y(bidPrice)).attr('dy', '0.36em')
        .style('font-size', '27px').style('font-family', font).attr('fill', '#fff').text(d3.format('.1f')(bidPrice))
    let tg = tags.selectAll('.tag').data(levels).enter().append('g')
    tg.append('rect').attr('x', 3718).attr('y', d => y(d.p) - 6).attr('width', 104).attr('height', 34)
        .attr('fill', d => d.color)
    tg.append('text').attr('x', 3730).attr('y', d => y(d.p) + 11).attr('dy', '0.36em')
        .style('font-size', '27px').style('font-family', font).attr('fill', '#fff')
        .text(d => d3.format('.1f')(d.p))

    // header
    svg.append('path').attr('d', 'M9,18L27,18L18,28Z').attr('fill', '#000')
    svg.append('text').attr('x', 44).attr('y', 35)
        .style('font-size', '27px').style('font-family', font).style('white-space', 'pre').attr('fill', '#000')
        .text(symbolName + '  ' + [last[0], last[1], last[2], last[3]].map(d3.format('.1f')).join(' '))
}
</script>
</body>
</html>
